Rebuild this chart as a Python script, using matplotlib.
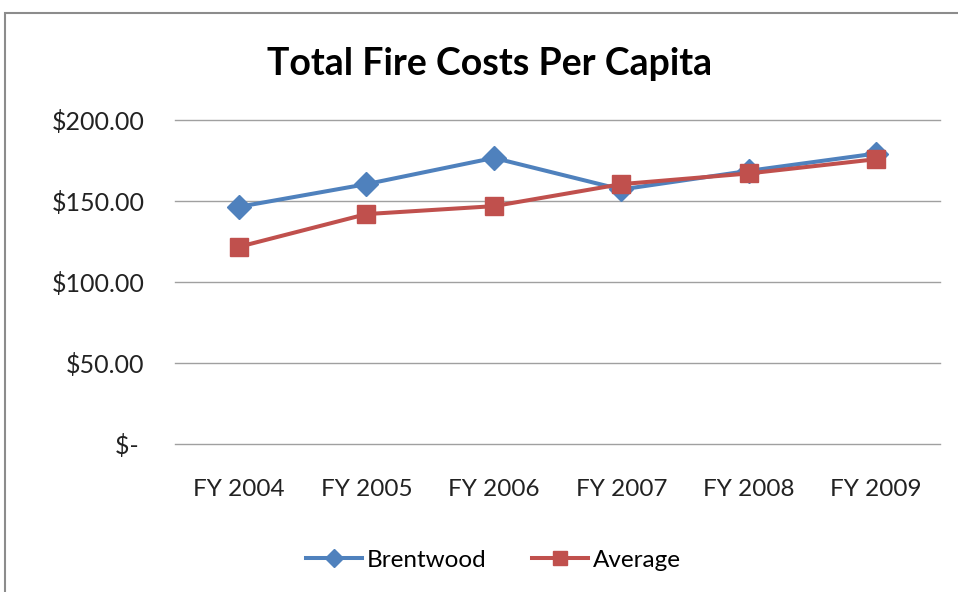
import matplotlib.pyplot as plt
from matplotlib.ticker import FuncFormatter
from matplotlib.patches import Rectangle

plt.rcParams['font.family'] = ['Lato', 'DejaVu Sans']

# data
years = ['FY 2004', 'FY 2005', 'FY 2006', 'FY 2007', 'FY 2008', 'FY 2009']
brentwood = [146.5, 160.5, 176.7, 157.2, 168.7, 179.4]
average = [121.8, 142.0, 146.9, 160.5, 167.1, 175.9]

fig = plt.figure(figsize=(9.58, 5.92), dpi=100)
ax = fig.add_axes([0.183, 0.25, 0.798, 0.547])

x = list(range(len(years)))
ax.plot(x, brentwood, color='#4F81BD', lw=2.9, marker='D', ms=12, label='Brentwood')
ax.plot(x, average, color='#C0504D', lw=2.9, marker='s', ms=13, label='Average')

ax.set_xlim(-0.5, len(years) - 0.5)
ax.set_ylim(0, 200)
ax.set_yticks([0, 50, 100, 150, 200])

def money(v, pos):
    if v == 0:
        return '$- '
    return '${:,.2f}'.format(v)

ax.yaxis.set_major_formatter(FuncFormatter(money))
ax.set_xticks(x)
ax.set_xticklabels(years)
ax.tick_params(axis='y', length=0, pad=22, labelsize=18, labelcolor='#222222')
ax.tick_params(axis='x', length=0, pad=25, labelsize=17.5, labelcolor='#222222')

ax.grid(axis='y', color='#A0A0A0', lw=1)
for gl in ax.get_ygridlines():
    gl.set_clip_on(False)
ax.set_axisbelow(True)
for s in ax.spines.values():
    s.set_visible(False)

fig.text(0.511, 0.892, 'Total Fire Costs Per Capita', ha='center', va='center',
         fontsize=27, fontweight='bold')

fig.legend(loc='center', bbox_to_anchor=(0.515, 0.054), ncol=2, frameon=False,
           fontsize=17.5, handlelength=2.3, columnspacing=1.9, handletextpad=0.2,
           markerscale=0.75)

# chart border
fig.patches.append(Rectangle((5 / 958, -0.1), 1.1, 1.1 - 13 / 592, transform=fig.transFigure,
                             fill=False, ec='#8C8C8C', lw=1.5))

fig.savefig('out.png', dpi=100)
